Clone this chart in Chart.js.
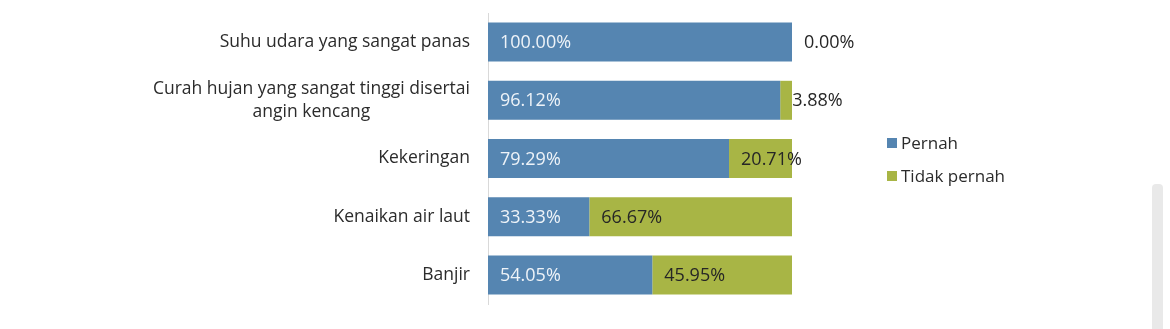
<!DOCTYPE html>
<html>
<head>
<meta charset="utf-8">
<script src="https://cdn.jsdelivr.net/npm/chart.js@4/dist/chart.umd.min.js"></script>
<style>
html,body{margin:0;padding:0;background:#fff;}
#wrap{position:relative;width:1170px;height:329px;}
#scroll{position:absolute;left:1152px;top:184px;width:11px;height:145px;background:#e9e9e9;border-radius:4px 4px 0 0;}
</style>
</head>
<body>
<div id="wrap"><canvas id="c" width="1170" height="329"></canvas><div id="scroll"></div></div>
<script>
const categories = [
  ["Suhu udara yang sangat panas"],
  ["Curah hujan yang sangat tinggi disertai", "angin kencang"],
  ["Kekeringan"],
  ["Kenaikan air laut"],
  ["Banjir"]
];
const pernah = [100.00, 96.12, 79.29, 33.33, 54.05];
const tidakPernah = [0.00, 3.88, 20.71, 66.67, 45.95];
const seriesNames = ["Pernah", "Tidak pernah"];
const seriesColors = ["#5585b1", "#a8b545"];

const FONT = '"Open Sans", "Liberation Sans", sans-serif';
const FS_TXT = 17.5;
const FS_NUM = 18;

const labelPlugin = {
  id: 'customLabels',
  afterDatasetsDraw(chart) {
    const ctx = chart.ctx;
    ctx.save();
    ctx.font = FS_NUM + 'px ' + FONT;
    ctx.textBaseline = 'middle';
    ctx.textAlign = 'left';
    chart.data.datasets.forEach((ds, di) => {
      const meta = chart.getDatasetMeta(di);
      meta.data.forEach((el, i) => {
        const v = ds.data[i];
        const start = Math.min(el.base, el.x);
        ctx.fillStyle = di === 0 ? '#eef3f8' : '#262626';
        ctx.fillText(v.toFixed(2) + '%', start + 12, el.y + 1);
      });
    });
    // category labels (right-aligned block, centered lines)
    ctx.font = FS_TXT + 'px ' + FONT;
    const ys = chart.scales.y;
    ctx.fillStyle = '#2b2b2b';
    ctx.textAlign = 'center';
    const right = ys.right - 18;
    categories.forEach((lines, i) => {
      const yc = ys.getPixelForValue(i);
      const widths = lines.map(l => ctx.measureText(l).width);
      const maxW = Math.max(...widths);
      const cx = right - maxW / 2;
      const lh = 23;
      const y0 = yc - (lines.length - 1) * lh / 2;
      lines.forEach((l, j) => ctx.fillText(l, cx, y0 + j * lh));
    });
    // legend
    ctx.font = '17px ' + FONT;
    ctx.textAlign = 'left';
    const legX = 887, legY = [143, 176];
    seriesNames.forEach((n, k) => {
      ctx.fillStyle = seriesColors[k];
      ctx.fillRect(legX, legY[k] - 5, 10, 10);
      ctx.fillStyle = '#2b2b2b';
      ctx.fillText(n, legX + 14, legY[k] + 1);
    });
    ctx.restore();
  }
};

new Chart(document.getElementById('c'), {
  type: 'bar',
  data: {
    labels: categories,
    datasets: [
      { label: seriesNames[0], data: pernah, backgroundColor: seriesColors[0], borderWidth: 0 },
      { label: seriesNames[1], data: tidakPernah, backgroundColor: seriesColors[1], borderWidth: 0 }
    ]
  },
  options: {
    indexAxis: 'y',
    responsive: false,
    animation: false,
    events: [],
    layout: { padding: { left: 0, right: 378, top: 13, bottom: 25 } },
    datasets: { bar: { categoryPercentage: 1, barPercentage: 0.67 } },
    scales: {
      x: { stacked: true, display: false, min: 0, max: 100 },
      y: {
        stacked: true,
        afterFit(s) { s.width = 488; },
        grid: { display: false, drawTicks: false },
        border: { display: true, color: '#d9d9d9', width: 1 },
        ticks: { display: false }
      }
    },
    plugins: { legend: { display: false }, tooltip: { enabled: false } }
  },
  plugins: [labelPlugin]
});
</script>
</body>
</html>
